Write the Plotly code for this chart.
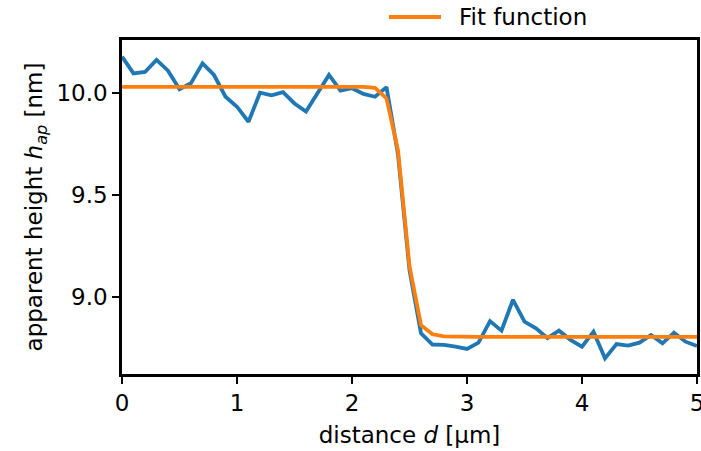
import plotly.graph_objects as go

# Data
distance = [round(i * 0.1, 1) for i in range(51)]
height = [10.18, 10.098, 10.105, 10.164, 10.111, 10.02, 10.05, 10.147, 10.09, 9.983,
          9.934, 9.86, 10.003, 9.99, 10.006, 9.95, 9.91, 10.0, 10.09, 10.013,
          10.025, 9.997, 9.983, 10.03, 9.70, 9.13, 8.82, 8.765, 8.763, 8.754,
          8.743, 8.774, 8.88, 8.833, 8.985, 8.877, 8.845, 8.796, 8.833, 8.788,
          8.754, 8.828, 8.697, 8.767, 8.76, 8.774, 8.812, 8.771, 8.823, 8.779,
          8.758]
fit = [10.032] * 22 + [10.027, 9.975, 9.72, 9.15, 8.86, 8.815, 8.805] + [8.803] * 22

x_ticks = [0, 1, 2, 3, 4, 5]
y_ticks = [9.0, 9.5, 10.0]
fit_label = "Fit function"

FONT = "DejaVu Sans"
FS = 23
BLUE = "#1f77b4"
ORANGE = "#ff7f0e"

# plot area in pixels
W, H = 701, 451
L, R, T, B = 122, 4, 40, 77
PW, PH = W - L - R, H - T - B


def px_to_paper(px, py):
    return (px - L) / PW, (H - B - py) / PH


fig = go.Figure()
fig.add_trace(go.Scatter(x=distance, y=height, mode="lines",
                         line=dict(color=BLUE, width=3.8),
                         showlegend=False, name="data"))
fig.add_trace(go.Scatter(x=distance, y=fit, mode="lines",
                         line=dict(color=ORANGE, width=3.8),
                         showlegend=False, name=fit_label))

axis_common = dict(showline=True, linecolor="black", linewidth=2.5, mirror=True,
                   ticks="outside", ticklen=7, tickwidth=2.2, tickcolor="black",
                   showgrid=False, zeroline=False, ticklabeloverflow="allow",
                   tickfont=dict(family=FONT, size=FS, color="black"))

fig.update_xaxes(range=[0, 5], tickvals=x_ticks, ticktext=[str(t) for t in x_ticks],
                 title=dict(text="distance <i>d</i> [μm]", standoff=12,
                            font=dict(family=FONT, size=FS, color="black")),
                 **axis_common)
fig.update_yaxes(range=[8.62, 10.262], tickvals=y_ticks,
                 ticktext=[f"{t:.1f}" for t in y_ticks],
                 title=dict(text="apparent height <i>h</i><sub><i>ap</i></sub> [nm]", standoff=8,
                            font=dict(family=FONT, size=FS, color="black")),
                 **axis_common)

# legend (drawn manually to match the reference's sample length and spacing)
lx0, ly = px_to_paper(389, 17)
lx1, _ = px_to_paper(441, 17)
tx, _ = px_to_paper(457, 17)
fig.add_shape(type="line", xref="paper", yref="paper", x0=lx0, x1=lx1, y0=ly, y1=ly,
              line=dict(color=ORANGE, width=3.8))
fig.add_annotation(xref="paper", yref="paper", x=tx, y=ly, xanchor="left", yanchor="middle",
                   text=fit_label, showarrow=False,
                   font=dict(family=FONT, size=FS, color="black"))

fig.update_layout(
    width=W, height=H,
    margin=dict(l=L, r=R, t=T, b=B, autoexpand=False),
    plot_bgcolor="white", paper_bgcolor="white",
    font=dict(family=FONT, size=FS, color="black"),
    showlegend=False,
)

fig.write_html("out.html")
